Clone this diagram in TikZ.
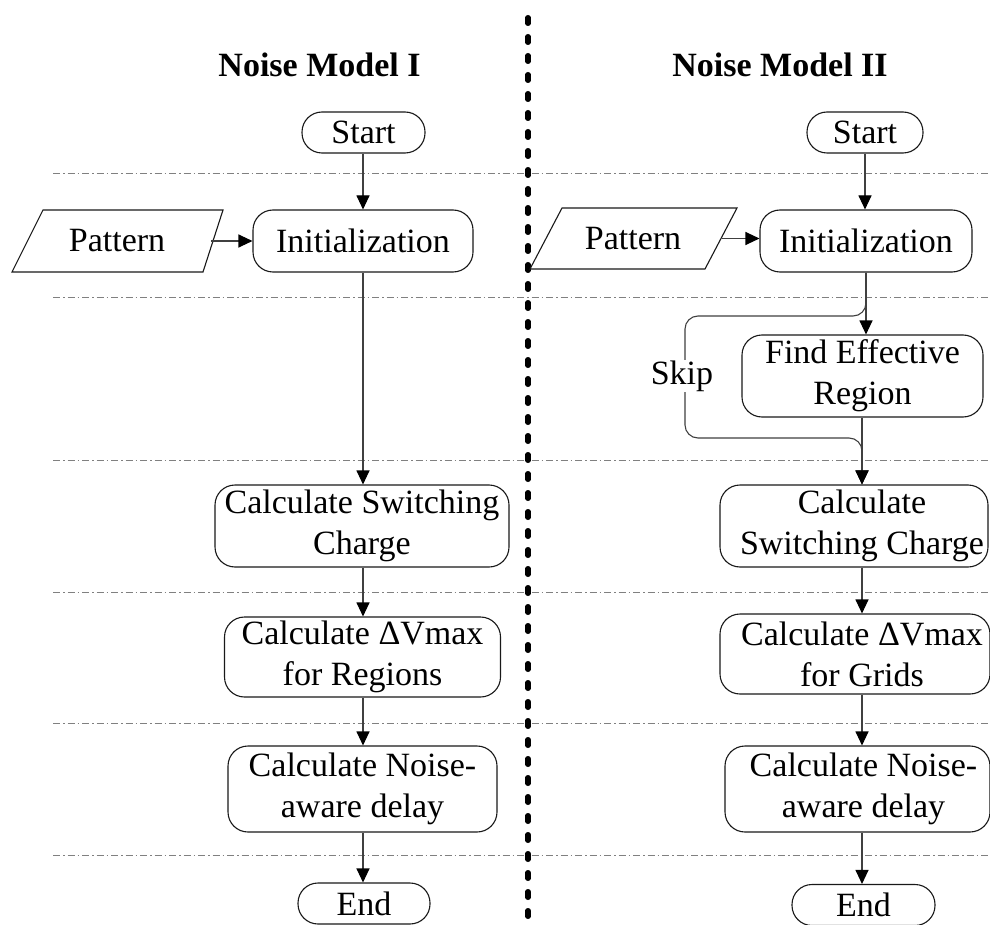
\documentclass[tikz,border=0pt]{standalone}
\usepackage{fontspec}
\setmainfont{Liberation Serif}
\usetikzlibrary{arrows.meta}
\begin{document}
\begin{tikzpicture}[x=1pt,y=-1pt,
  every node/.style={font=\fontsize{34}{41}\selectfont},
  box/.style={draw=black!90, line width=1.1pt, rounded corners=20pt, inner sep=0pt, align=center, fill=white},
  term/.style={draw=black!90, line width=1.1pt, rounded corners=20pt, inner sep=0pt, minimum height=41pt, fill=white},
  conn/.style={draw=black!75, line width=1.1pt},
  arr/.style={conn, -{Triangle[length=14pt,width=13pt,color=black,fill=black]}},
  sep/.style={draw=black!50, line width=0.9pt, dash pattern=on 7pt off 3pt on 1.5pt off 3pt},
  divider/.style={line width=5.5pt, line cap=round, dash pattern=on 5.5pt off 13.5pt},
  title/.style={font=\fontsize{34}{41}\selectfont\bfseries, anchor=base}
]
\useasboundingbox (0,0) rectangle (990,925);
\fill[white] (0,0) rectangle (990,925);

% separators
\foreach \yy in {173,297,460,592,723,855}
  \draw[sep] (53,\yy) -- (990,\yy);

% divider
\draw[divider] (528,17.75) -- (528,935);

% titles
\node[title] (t1) at (319.5,77) {Noise Model I};
\node[title] (t2) at (780,77) {Noise Model II};

% column coordinates
\coordinate (colL) at (363,0);
\coordinate (colR) at (862,0);

% left column
\node[term, minimum width=123pt] (startL) at (363.5,132.5) {Start};
\node[box, minimum width=220pt, minimum height=62pt] (initL) at (363,241) {Initialization};
\node[minimum width=188pt, minimum height=62pt, inner sep=0pt] (patL) at (117,241) {Pattern};
\draw[line width=1.1pt, draw=black!90] (12,272) -- (43,210) -- (223,210) -- (203,272) -- cycle;
\node[box, minimum width=294pt, minimum height=82pt] (calcL) at (362,526) {Calculate Switching\\Charge};
\node[box, minimum width=276pt, minimum height=80pt] (dvL) at (362.5,657) {Calculate ΔVmax\\for Regions};
\node[box, minimum width=269pt, minimum height=86pt] (noiseL) at (362.5,789) {Calculate Noise-\\aware delay};
\node[term, minimum width=132pt] (endL) at (364,903.5) {End};

\draw[arr] (colL |- startL.south) -- (colL |- initL.north);
\draw[arr] (patL.east) -- (patL.east -| initL.west);
\draw[arr] (colL |- initL.south) -- (colL |- calcL.north);
\draw[arr] (colL |- calcL.south) -- (colL |- dvL.north);
\draw[arr] (colL |- dvL.south) -- (colL |- noiseL.north);
\draw[arr] (colL |- noiseL.south) -- (colL |- endL.north);

% right column
\node[term, minimum width=116pt] (startR) at (865,132.5) {Start};
\node[box, minimum width=212pt, minimum height=62pt] (initR) at (866,241) {Initialization};
\node[minimum width=178pt, minimum height=61pt, inner sep=0pt] (patR) at (633,238.5) {Pattern};
\draw[line width=1.1pt, draw=black!90] (530,269) -- (562,208) -- (737,208) -- (705,269) -- cycle;
\node[box, minimum width=241pt, minimum height=82pt] (findR) at (862.5,376) {Find Effective\\Region};
\node[box, minimum width=268pt, minimum height=82pt] (calcR) at (854,526) {};
\node[align=center, inner sep=0pt] (calcRt) at (862,526) {Calculate\\Switching Charge};
\node[box, minimum width=270pt, minimum height=80pt] (dvR) at (855,654) {};
\node[align=center, inner sep=0pt] (dvRt) at (862,654) {Calculate ΔVmax\\for Grids};
\node[box, minimum width=265pt, minimum height=86pt] (noiseR) at (857.5,789) {};
\node[align=center, inner sep=0pt] (noiseRt) at (863.5,789) {Calculate Noise-\\aware delay};
\node[term, minimum width=143pt] (endR) at (863.5,905) {End};

\draw[arr] (startR.south) -- (startR.south |- initR.north);
\draw[arr] (patR.east) -- (patR.east -| initR.west);
\draw[arr] (initR.south) -- (initR.south |- findR.north);
\draw[arr] (colR |- findR.south) -- (colR |- calcR.north);
\draw[arr, rounded corners=13pt] (initR.south) -- (866,316) -- (685,316) -- (685,438) -- (862,438) -- (colR |- calcR.north);
\node[fill=white, inner sep=1pt] (skip) at (682,376) {Skip};
\draw[arr] (colR |- calcR.south) -- (colR |- dvR.north);
\draw[arr] (colR |- dvR.south) -- (colR |- noiseR.north);
\draw[arr] (colR |- noiseR.south) -- (colR |- endR.north);
\end{tikzpicture}
\end{document}
